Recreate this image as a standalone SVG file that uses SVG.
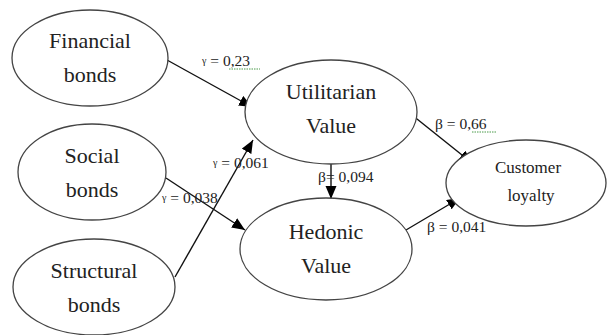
<svg xmlns="http://www.w3.org/2000/svg" width="607" height="335" viewBox="0 0 607 335">
<style>
.n{fill:#fff;stroke:#444;stroke-width:1.3}
text{font-family:'Liberation Serif','Times New Roman',serif;fill:#222}
.t{font-size:22px;text-anchor:middle}
.ts{font-size:17px;text-anchor:middle}
.l{font-size:15.5px}
.g{font-size:10px}
.c{stroke:#111;stroke-width:1.4;fill:none;marker-end:url(#a)}
.sq{stroke:#4a9a4a;stroke-width:1;fill:none;stroke-dasharray:1.5 1}
</style>
<defs>
<marker id="a" markerUnits="userSpaceOnUse" markerWidth="14" markerHeight="12" refX="13" refY="5.5" orient="auto">
<path d="M0,0 L13,5.5 L0,11 z" fill="#000"/>
</marker>
</defs>
<rect width="607" height="335" fill="#fff"/>
<g id="connectors">
<line class="c" x1="167" y1="60" x2="252" y2="107"/>
<line class="c" x1="175" y1="277" x2="253" y2="140"/>
<line class="c" x1="166" y1="178" x2="245" y2="230"/>
<line class="c" x1="331" y1="163" x2="331" y2="199"/>
<line class="c" x1="412" y1="115" x2="472" y2="163"/>
<line class="c" x1="406" y1="230" x2="460" y2="198"/>
</g>
<g id="financial"><ellipse class="n" cx="90" cy="58" rx="78" ry="48"/><text class="t" x="90" y="48">Financial</text><text class="t" x="90" y="82">bonds</text></g>
<g id="social"><ellipse class="n" cx="92" cy="172" rx="74" ry="48"/><text class="t" x="92" y="163">Social</text><text class="t" x="92" y="197">bonds</text></g>
<g id="structural"><ellipse class="n" cx="94" cy="287" rx="81" ry="48"/><text class="t" x="94" y="278">Structural</text><text class="t" x="94" y="312">bonds</text></g>
<g id="utilitarian"><ellipse class="n" cx="331" cy="112" rx="86" ry="52"/><text class="t" x="331" y="99">Utilitarian</text><text class="t" x="331" y="133">Value</text></g>
<g id="hedonic"><ellipse class="n" cx="326" cy="249" rx="86" ry="51"/><text class="t" x="326" y="239">Hedonic</text><text class="t" x="326" y="273">Value</text></g>
<g id="loyalty"><ellipse class="n" cx="526" cy="183" rx="80" ry="43"/><text class="ts" x="528" y="173">Customer</text><text class="ts" x="531" y="201">loyalty</text></g>
<g id="labels">
<text class="l" x="202" y="66"><tspan class="g" dy="-2">γ</tspan><tspan dy="2"> = 0,23</tspan></text>
<path class="sq" d="M229,69 L260,69"/>
<text class="l" x="435" y="129">β = 0,66</text>
<path class="sq" d="M472,132 L497,132"/>
<text class="l" x="213" y="168"><tspan class="g" dy="-2">γ</tspan><tspan dy="2"> = 0,061</tspan></text>
<text class="l" x="162" y="203"><tspan class="g" dy="-2">γ</tspan><tspan dy="2"> = 0,038</tspan></text>
<text class="l" x="318" y="182">β= 0,094</text>
<text class="l" x="427" y="232">β = 0,041</text>
</g>
</svg>
